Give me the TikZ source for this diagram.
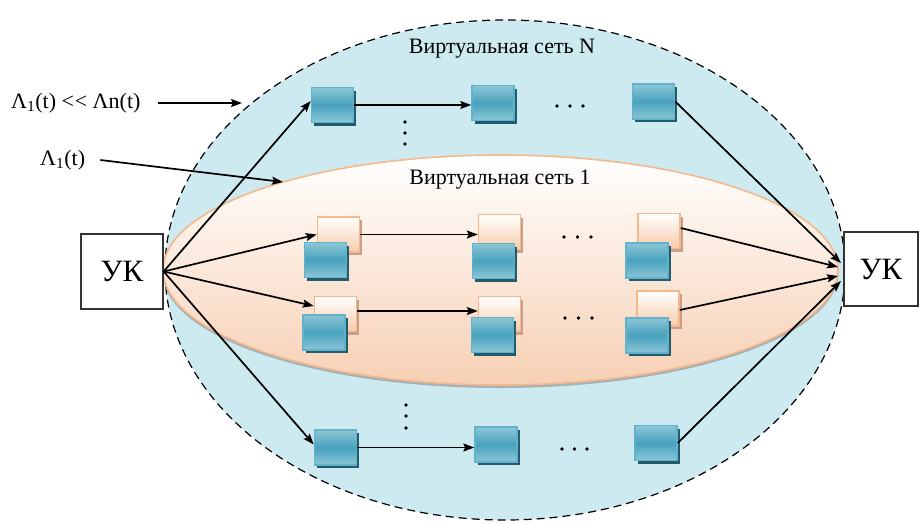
\documentclass[tikz,border=0pt]{standalone}
\usepackage{fontspec}
\setmainfont{Liberation Serif}
\usetikzlibrary{arrows.meta,shadows,calc}
\definecolor{skyfill}{RGB}{206,234,241}
\definecolor{peach}{RGB}{247,208,180}
\definecolor{orborder}{RGB}{244,184,140}
\definecolor{blight}{RGB}{140,198,214}
\definecolor{bmid}{RGB}{72,162,189}
\definecolor{bborder}{RGB}{98,178,203}
\definecolor{bshadow}{RGB}{34,92,108}
\definecolor{oshadow}{RGB}{200,160,138}
\definecolor{obottom}{RGB}{248,203,170}
\begin{document}
\begin{tikzpicture}[x=1pt,y=-1pt,
  bsq/.style={draw=bborder,line width=1.5pt,minimum width=42pt,minimum height=35pt,inner sep=0pt,
    top color=blight,bottom color=blight,middle color=bmid,
    drop shadow={shadow xshift=2.5pt,shadow yshift=-3pt,fill=bshadow,opacity=1}},
  osq/.style={draw=orborder,line width=1.5pt,minimum width=42pt,minimum height=35pt,inner sep=0pt,
    top color=white,bottom color=obottom,
    drop shadow={shadow xshift=2.5pt,shadow yshift=-3pt,fill=oshadow,opacity=1}},
  ukbox/.style={draw=black!80,line width=1.3pt,fill=white,inner sep=0pt,font=\fontsize{31}{35}\selectfont},
  lbl/.style={inner sep=0pt,font=\fontsize{22}{26}\selectfont},
  arr/.style={-{Stealth[length=11pt,width=8pt,inset=2pt]},line width=1.7pt}
]
\useasboundingbox (0,0) rectangle (919,523);
% outer virtual network N
\draw[fill=skyfill,dash pattern=on 8pt off 5pt,line width=1.2pt] (505,270) ellipse [x radius=340pt,y radius=250pt];
% inner virtual network 1
\fill[black!45,opacity=0.6] (500.5,272.5) ellipse [x radius=338pt,y radius=115.5pt];
\draw[draw=orborder,line width=1.6pt,top color=white,bottom color=peach] (500.5,270) ellipse [x radius=337.5pt,y radius=115pt];

\node[lbl] (tN) at (502,49) {Виртуальная сеть N};
\node[lbl] (t1) at (500,180) {Виртуальная сеть 1};

% UK boxes
\node[ukbox,minimum width=82pt,minimum height=75pt] (L) at (122,271.5) {УК};
\node[ukbox,minimum width=74pt,minimum height=74pt] (R) at (881,269) {УК};

% top row
\node[bsq] (b11) at (332.5,105) {};
\node[bsq] (b12) at (493,103) {};
\node[bsq] (b13) at (653.5,101.5) {};
% row 2
\node[osq] (o21) at (338.5,234.5) {};
\node[osq] (o22) at (499.5,232) {};
\node[osq] (o23) at (659,231) {};
\node[bsq] (b21) at (325.5,260) {};
\node[bsq] (b22) at (493.5,261) {};
\node[bsq] (b23) at (647,260.5) {};
% row 3
\node[osq] (o31) at (335.5,314) {};
\node[osq] (o32) at (499.5,314) {};
\node[osq] (o33) at (658,308.5) {};
\node[bsq] (b31) at (324,332.5) {};
\node[bsq] (b32) at (492.5,335) {};
\node[bsq] (b33) at (647,335.5) {};
% bottom row
\node[bsq] (b41) at (335.5,447.5) {};
\node[bsq] (b42) at (496,444.5) {};
\node[bsq] (b43) at (656,443) {};

% dots
\foreach \x/\y in {557/106,570/106,583/106, 564/237,577.5/237,591/237, 565/318,578.5/318,592/318, 562/449,574.5/449,587/449,
                   405/122,405/133,405/144, 406/405,406/416,406/428}
  \fill (\x,\y) circle[radius=1.9pt];

% labels on the left
\node[lbl,anchor=west] (lab1) at (11,103) {Λ\textsubscript{1}(t) <\kern0.8pt< Λn(t)};
\node[lbl,anchor=west] (lab2) at (40,160) {Λ\textsubscript{1}(t)};
\coordinate (c1) at (242,103);
\coordinate (c2) at (283,182);
\draw[arr] ([xshift=17pt]lab1.east) -- (c1);
\draw[arr] ([xshift=15pt]lab2.east) -- (c2);

% arrows from left UK
\draw[arr] (L.east) -- ([yshift=4pt]b11.west);
\draw[arr] (L.east) -- (o21.west);
\draw[arr] (L.east) -- ([yshift=8pt]o31.west);
\draw[arr] (L.east) -- ([yshift=3pt]b41.west);

% horizontal arrows
\draw[arr] (b11.east) -- (b11.east -| b12.west);
\draw[arr] (o21.east) -- (o21.east -| o22.west);
\draw[arr] ([yshift=3pt]o31.east) -- ([yshift=3pt]o31.east -| o32.west);
\draw[arr] (b41.east) -- (b41.east -| b42.west);

% arrows to right UK
\coordinate (r1) at (841,263);
\coordinate (r2) at (838,267);
\coordinate (r3) at (838,276);
\coordinate (r4) at (841,281);
\draw[arr] (b13.east) -- (r1);
\draw[arr] ([yshift=3pt]o23.east) -- (r2);
\draw[arr] ([yshift=-1.5pt]o33.east) -- (r3);
\draw[arr] (b43.east) -- (r4);
\end{tikzpicture}
\end{document}
